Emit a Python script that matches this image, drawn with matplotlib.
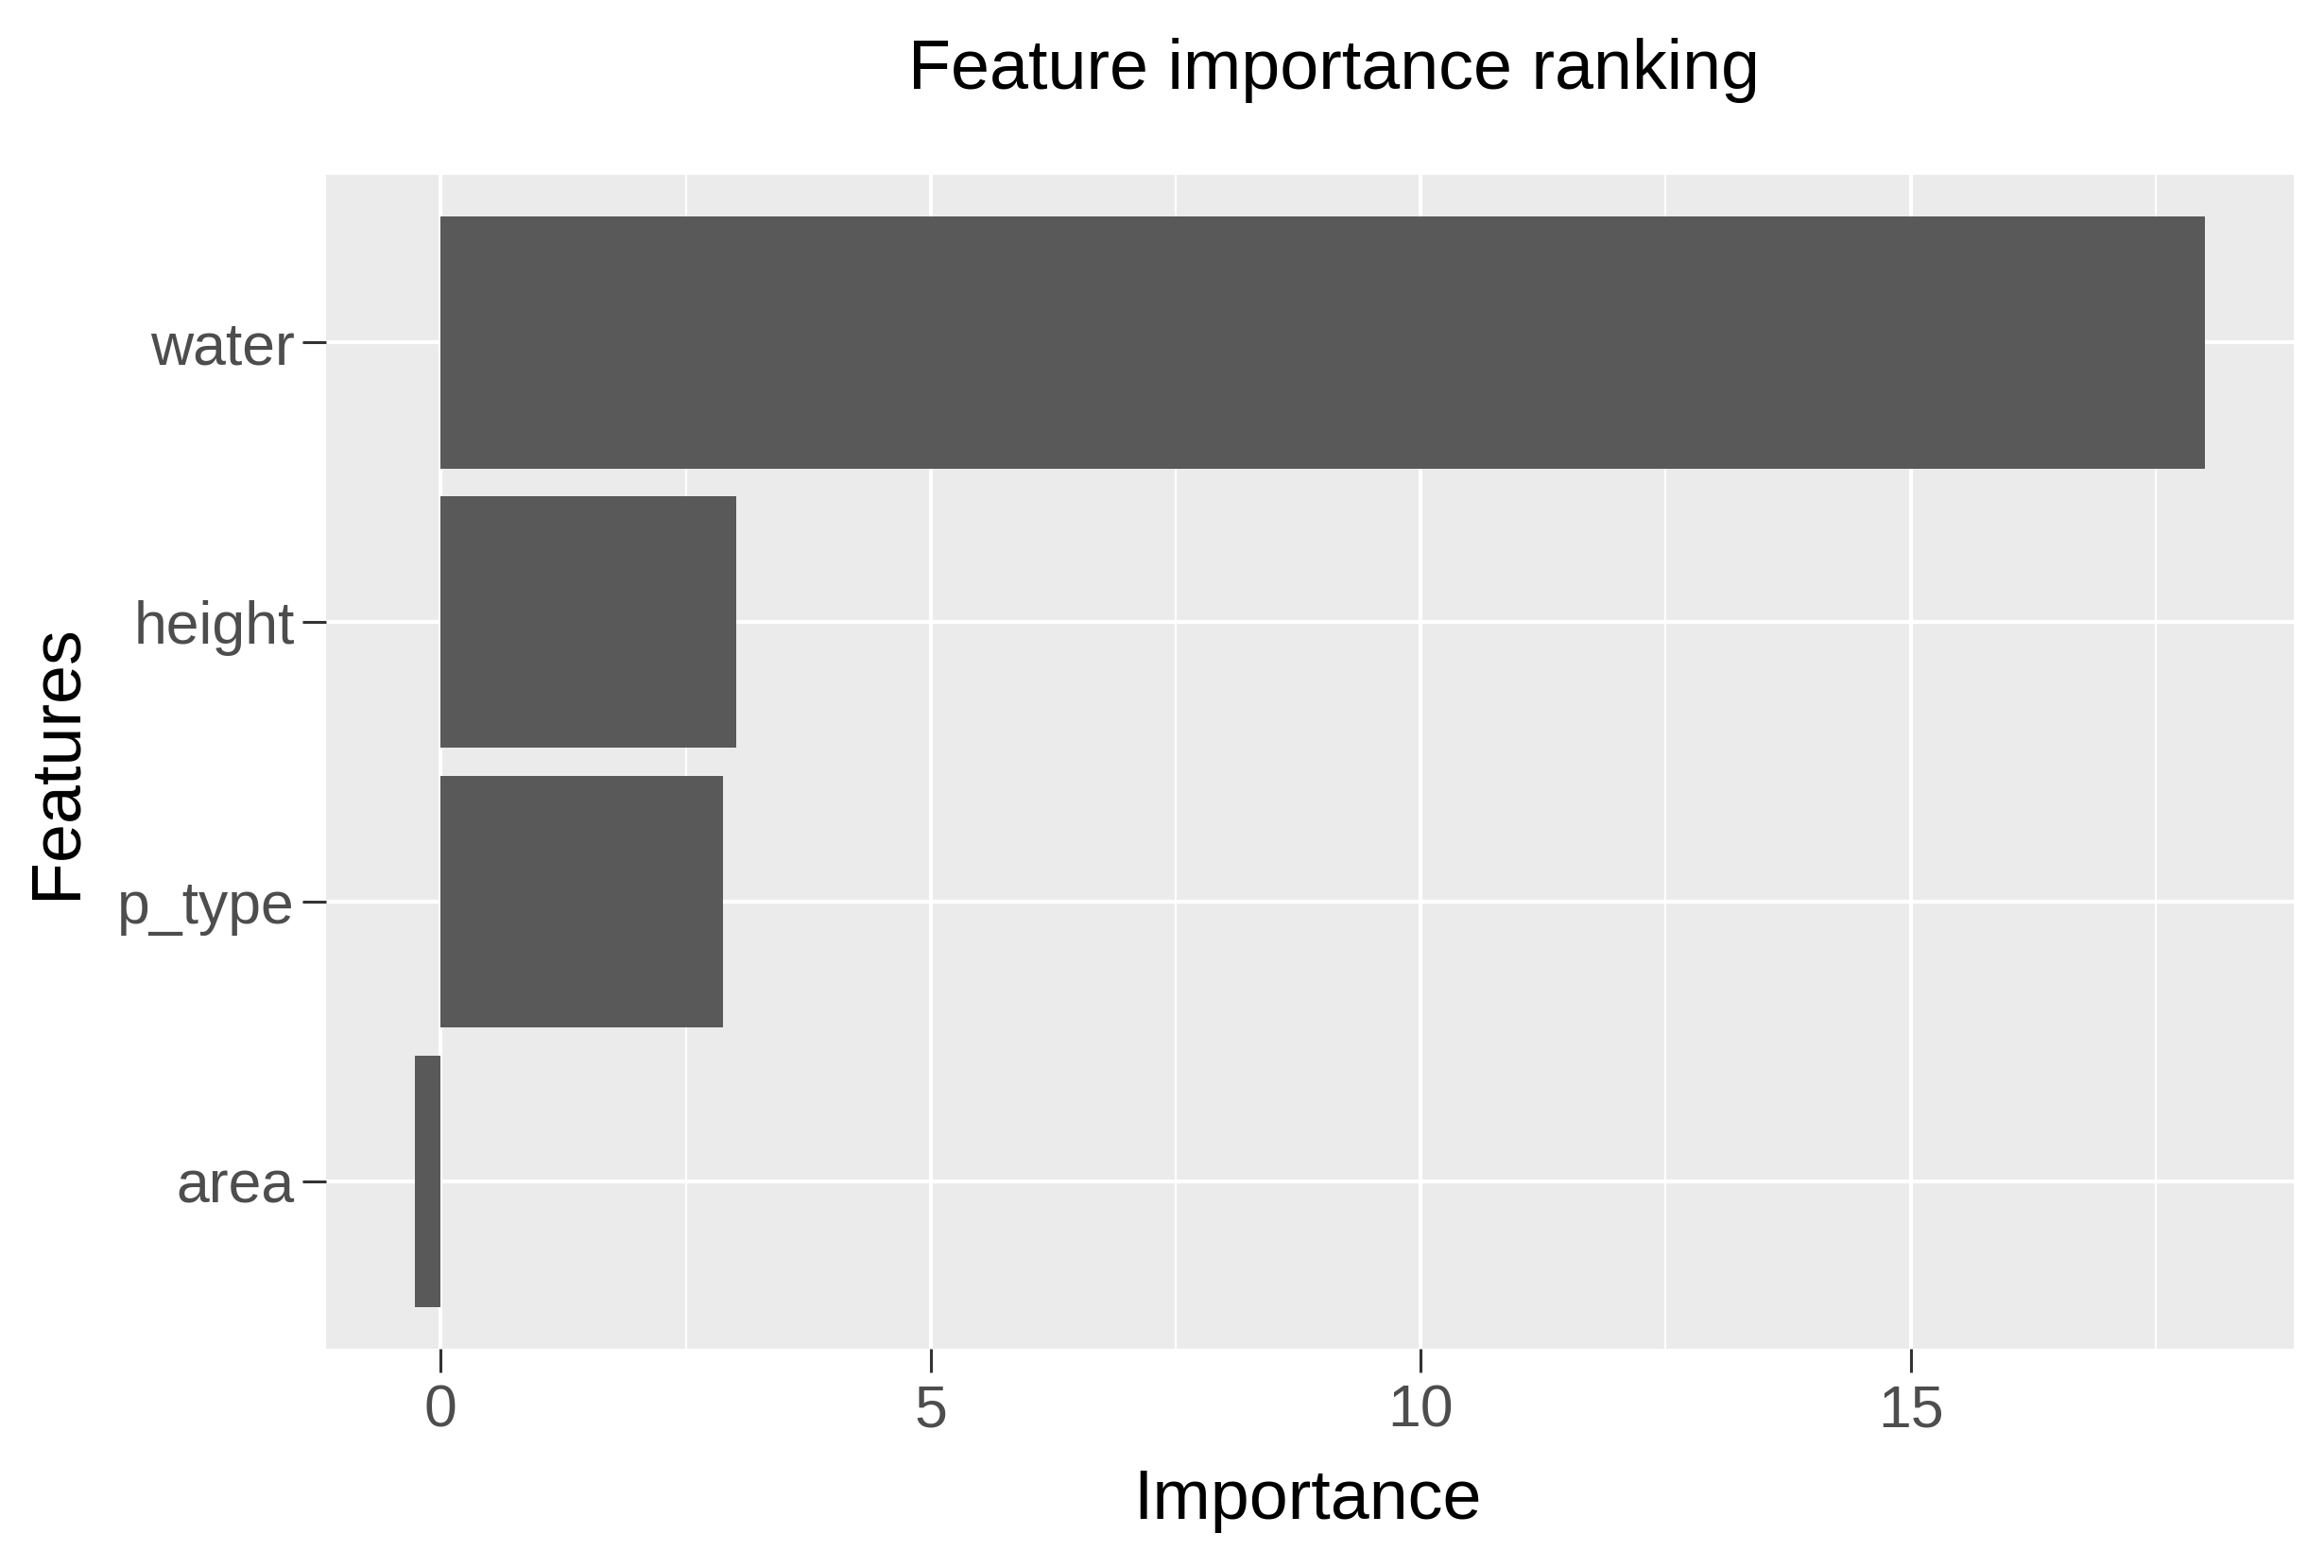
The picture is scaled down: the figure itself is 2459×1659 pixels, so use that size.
import matplotlib
matplotlib.use('Agg')
import matplotlib.pyplot as plt
from matplotlib.ticker import MultipleLocator

# Feature importances (bottom to top, as drawn)
features = ['area', 'p_type', 'height', 'water']
importance = [-0.26, 2.88, 3.02, 18.0]
x_ticks = [0, 5, 10, 15]

plt.rcParams['font.family'] = ['Liberation Sans', 'DejaVu Sans']

fig = plt.figure(figsize=(24.59, 16.59), dpi=100)
ax = fig.add_axes([0.1403, 0.1398, 0.987 - 0.1403, 0.8885 - 0.1398])

ypos = list(range(1, len(features) + 1))
ax.barh(ypos, importance, height=0.9, color='#595959', zorder=3)

ax.set_facecolor('#EBEBEB')
for s in ax.spines.values():
    s.set_visible(False)

ax.set_xlim(-1.17, 18.91)
ax.set_ylim(0.4, 4.6)
ax.set_xticks(x_ticks)
ax.set_xticklabels([str(t) for t in x_ticks])
ax.xaxis.set_minor_locator(MultipleLocator(2.5))
ax.set_yticks(ypos)
ax.set_yticklabels(features)

ax.grid(which='major', color='white', linewidth=3.0, zorder=0)
ax.grid(which='minor', axis='x', color='white', linewidth=1.5, zorder=0)
ax.set_axisbelow(True)

ax.tick_params(which='major', length=18, width=2.2, color='#333333',
               labelsize=45, labelcolor='#4D4D4D')
ax.tick_params(axis='y', pad=6)
ax.tick_params(axis='x', pad=8)
ax.tick_params(which='minor', length=0)

fig.text(0.574, 0.9433, 'Feature importance ranking', fontsize=53,
         ha='center', va='baseline', color='black')
fig.text(1383 / 2459, 1 - 1607 / 1659, 'Importance', fontsize=53,
         ha='center', va='baseline', color='black')
fig.text(60 / 2459, 1 - 806 / 1659, 'Features', fontsize=53, rotation=90,
         ha='center', va='center', color='black')

fig.savefig('out.png', dpi=100, facecolor='white')
